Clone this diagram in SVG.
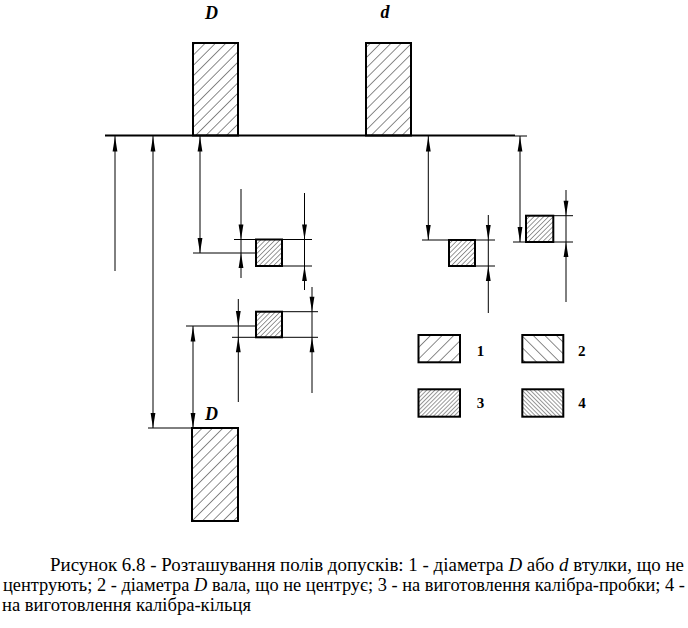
<svg xmlns="http://www.w3.org/2000/svg" xmlns:xlink="http://www.w3.org/1999/xlink" width="688" height="628" viewBox="0 0 688 628">
<style>
.thick{stroke:#000;stroke-width:2.2;fill:none}
.thin{stroke:#000;stroke-width:1;fill:none}
.box{stroke:#000;stroke-width:2}
.lbl{font-family:"Liberation Serif","Times New Roman",serif;font-weight:bold;font-style:italic;font-size:18px;fill:#000}
.num{font-family:"Liberation Serif","Times New Roman",serif;font-weight:bold;font-size:15px;fill:#000}
.cap{font-family:"Liberation Serif","Times New Roman",serif;font-size:18px;fill:#000}
</style>
<defs>
<pattern id="hBig" width="7.3" height="7.3" patternUnits="userSpaceOnUse" patternTransform="rotate(45)"><line x1="0" y1="0" x2="0" y2="7.3" stroke="#000" stroke-width="0.9"/></pattern>
<pattern id="hSmall" width="3.4" height="3.4" patternUnits="userSpaceOnUse" patternTransform="rotate(45)"><line x1="0" y1="0" x2="0" y2="3.4" stroke="#000" stroke-width="0.8"/></pattern>
<pattern id="h1" width="8.2" height="8.2" patternUnits="userSpaceOnUse" patternTransform="rotate(45)"><line x1="0" y1="0" x2="0" y2="8.2" stroke="#000" stroke-width="0.9"/></pattern>
<pattern id="h2" width="8.2" height="8.2" patternUnits="userSpaceOnUse" patternTransform="rotate(-45)"><line x1="0" y1="0" x2="0" y2="8.2" stroke="#000" stroke-width="0.9"/></pattern>
<pattern id="h3" width="2.9" height="2.9" patternUnits="userSpaceOnUse" patternTransform="rotate(45)"><line x1="0" y1="0" x2="0" y2="2.9" stroke="#000" stroke-width="0.8"/></pattern>
<pattern id="h4" width="2.9" height="2.9" patternUnits="userSpaceOnUse" patternTransform="rotate(-45)"><line x1="0" y1="0" x2="0" y2="2.9" stroke="#000" stroke-width="0.8"/></pattern>
<path id="ad" d="M0,0 L-2.4,-15 L2.4,-15 Z" fill="#000"/>
<path id="au" d="M0,0 L-2.4,15 L2.4,15 Z" fill="#000"/>
</defs>

<g id="zero-line">
<line class="thick" x1="105" y1="135.5" x2="515" y2="135.5"/>
<line class="thin" x1="515" y1="136" x2="527" y2="136"/>
</g>

<g id="node-D-top">
<rect class="box" x="193" y="43" width="45" height="92.5" fill="url(#hBig)"/>
<text class="lbl" x="211.5" y="19" text-anchor="middle">D</text>
</g>

<g id="node-d-top">
<rect class="box" x="366" y="43" width="45" height="92.5" fill="url(#hBig)"/>
<text class="lbl" x="385" y="18" text-anchor="middle">d</text>
</g>

<g id="node-zone-a">
<rect class="box" x="256" y="239.5" width="26" height="26.5" fill="url(#hSmall)"/>
</g>
<g id="node-zone-b">
<rect class="box" x="256" y="311.7" width="26" height="25.6" fill="url(#hSmall)"/>
</g>
<g id="node-zone-c">
<rect class="box" x="449" y="240" width="26" height="26" fill="url(#hSmall)"/>
</g>
<g id="node-zone-d">
<rect class="box" x="526" y="215.7" width="27.3" height="26.3" fill="url(#hSmall)"/>
</g>

<g id="node-D-bottom">
<rect class="box" x="192" y="428" width="46" height="93" fill="url(#hBig)"/>
<text class="lbl" x="211.5" y="419.5" text-anchor="middle">D</text>
</g>

<g id="connectors">
<line class="thin" x1="115" y1="136" x2="115" y2="271"/>
<use xlink:href="#au" x="115" y="136.5"/>
<line class="thin" x1="153" y1="136" x2="153" y2="428"/>
<use xlink:href="#au" x="153" y="136.5"/>
<use xlink:href="#ad" x="153" y="428"/>
<line class="thin" x1="200" y1="136" x2="200" y2="253"/>
<use xlink:href="#au" x="200" y="136.5"/>
<use xlink:href="#ad" x="200" y="253"/>
<line class="thin" x1="428.3" y1="136" x2="428.3" y2="240"/>
<use xlink:href="#au" x="428.3" y="136.5"/>
<use xlink:href="#ad" x="428.3" y="240"/>
<line class="thin" x1="520" y1="136" x2="520" y2="242"/>
<use xlink:href="#au" x="520" y="136.5"/>
<use xlink:href="#ad" x="520" y="242"/>

<line class="thin" x1="193" y1="253" x2="256" y2="253"/>
<line class="thin" x1="234" y1="239.5" x2="312" y2="239.5"/>
<line class="thin" x1="282" y1="266" x2="312" y2="266"/>
<line class="thin" x1="241" y1="189" x2="241" y2="278"/>
<use xlink:href="#ad" x="241" y="239.5"/>
<use xlink:href="#au" x="241" y="253"/>
<line class="thin" x1="304.5" y1="193" x2="304.5" y2="290"/>
<use xlink:href="#ad" x="304.5" y="239.5"/>
<use xlink:href="#au" x="304.5" y="266"/>

<line class="thin" x1="186" y1="326" x2="256" y2="326"/>
<line class="thin" x1="282" y1="311.7" x2="318" y2="311.7"/>
<line class="thin" x1="232" y1="337.3" x2="318" y2="337.3"/>
<line class="thin" x1="238.3" y1="299" x2="238.3" y2="402"/>
<use xlink:href="#ad" x="238.3" y="326"/>
<use xlink:href="#au" x="238.3" y="337.3"/>
<line class="thin" x1="312" y1="287" x2="312" y2="393"/>
<use xlink:href="#ad" x="312" y="311.7"/>
<use xlink:href="#au" x="312" y="337.3"/>
<line class="thin" x1="193" y1="326" x2="193" y2="428"/>
<use xlink:href="#au" x="193" y="326.5"/>
<use xlink:href="#ad" x="193" y="428"/>
<line class="thin" x1="148" y1="428" x2="192" y2="428"/>

<line class="thin" x1="422" y1="240" x2="495" y2="240"/>
<line class="thin" x1="475" y1="266" x2="495" y2="266"/>
<line class="thin" x1="488.3" y1="215" x2="488.3" y2="313"/>
<use xlink:href="#ad" x="488.3" y="240"/>
<use xlink:href="#au" x="488.3" y="266"/>

<line class="thin" x1="513" y1="242" x2="573" y2="242"/>
<line class="thin" x1="553" y1="215.7" x2="573" y2="215.7"/>
<line class="thin" x1="566" y1="190" x2="566" y2="302"/>
<use xlink:href="#ad" x="566" y="215.7"/>
<use xlink:href="#au" x="566" y="242"/>
</g>

<g id="legend-1">
<rect class="box" x="418.5" y="335" width="41.5" height="27.3" fill="url(#h1)"/>
<text class="num" x="480.5" y="356" text-anchor="middle">1</text>
</g>
<g id="legend-2">
<rect class="box" x="522.3" y="335" width="41" height="27.3" fill="url(#h2)"/>
<text class="num" x="581.7" y="356" text-anchor="middle">2</text>
</g>
<g id="legend-3">
<rect class="box" x="418.5" y="389.3" width="41.5" height="27.4" fill="url(#h3)"/>
<text class="num" x="480.5" y="407.5" text-anchor="middle">3</text>
</g>
<g id="legend-4">
<rect class="box" x="522.3" y="389.3" width="41" height="27.4" fill="url(#h4)"/>
<text class="num" x="582" y="407.5" text-anchor="middle">4</text>
</g>

<g id="caption">
<text class="cap" x="50" y="571" textLength="634" lengthAdjust="spacingAndGlyphs">Рисунок 6.8 - Розташування полів допусків: 1 - діаметра <tspan font-style="italic">D</tspan> або <tspan font-style="italic">d</tspan> втулки, що не</text>
<text class="cap" x="3" y="591" textLength="682" lengthAdjust="spacingAndGlyphs">центрують; 2 - діаметра <tspan font-style="italic">D</tspan> вала, що не центрує; 3 - на виготовлення калібра-пробки; 4 -</text>
<text class="cap" x="2" y="611" textLength="249" lengthAdjust="spacingAndGlyphs">на виготовлення калібра-кільця</text>
</g>
</svg>
